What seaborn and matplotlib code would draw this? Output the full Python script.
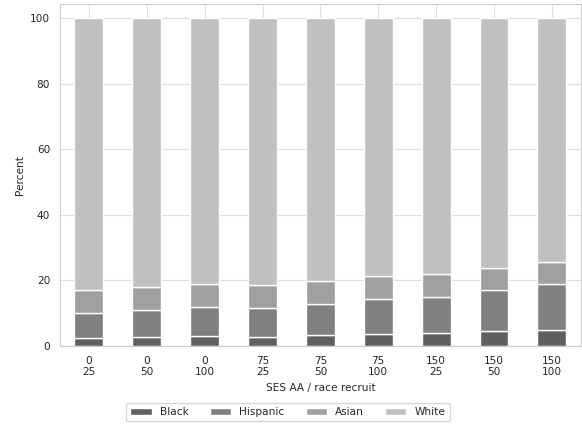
import numpy as np
import pandas as pd
import seaborn as sns
import matplotlib
matplotlib.use("Agg")
import matplotlib.pyplot as plt

ses_aa = ["0", "0", "0", "75", "75", "75", "150", "150", "150"]
race_recruit = ["25", "50", "100", "25", "50", "100", "25", "50", "100"]

black = [2.4, 2.7, 3.1, 2.8, 3.2, 3.7, 3.8, 4.4, 4.9]
hispanic = [7.5, 8.1, 8.8, 8.8, 9.6, 10.5, 11.1, 12.5, 14.0]
asian = [7.0, 7.2, 7.1, 7.0, 7.1, 7.0, 7.1, 7.0, 6.8]
white = [100 - b - h - a for b, h, a in zip(black, hispanic, asian)]

colors = ["#606060", "#808080", "#a0a0a0", "#c0c0c0"]

df = pd.DataFrame({"Black": black, "Hispanic": hispanic, "Asian": asian, "White": white},
                  index=[f"{s}\n{r}" for s, r in zip(ses_aa, race_recruit)])

sns.set_style("whitegrid")
plt.rcParams["font.family"] = ["DejaVu Sans"]
fs = 7.6

fig, ax = plt.subplots(figsize=(5.82, 4.28), dpi=100)
ax.set_axisbelow(True)
df.plot(kind="bar", stacked=True, ax=ax, color=colors, edgecolor="white", linewidth=1, width=0.5)

ax.set_ylim(0, 104.3)
ax.set_yticks([0, 20, 40, 60, 80, 100])
ax.set_ylabel("Percent", fontsize=fs)
ax.set_xlabel("SES AA / race recruit", fontsize=fs)
ax.tick_params(axis="x", labelrotation=0, labelsize=fs)
ax.tick_params(axis="y", labelsize=fs)
ax.grid(True, color="#dddddd")
for s in ax.spines.values():
    s.set_color("#cccccc")

handles, labels = ax.get_legend_handles_labels()
ax.get_legend().remove()
fig.legend(handles, labels, loc="upper center", bbox_to_anchor=(0.495, 0.071), ncol=4,
           fontsize=fs, frameon=True)

fig.subplots_adjust(left=0.103, right=0.998, top=0.99, bottom=0.192)
fig.savefig("out.png", dpi=100)
